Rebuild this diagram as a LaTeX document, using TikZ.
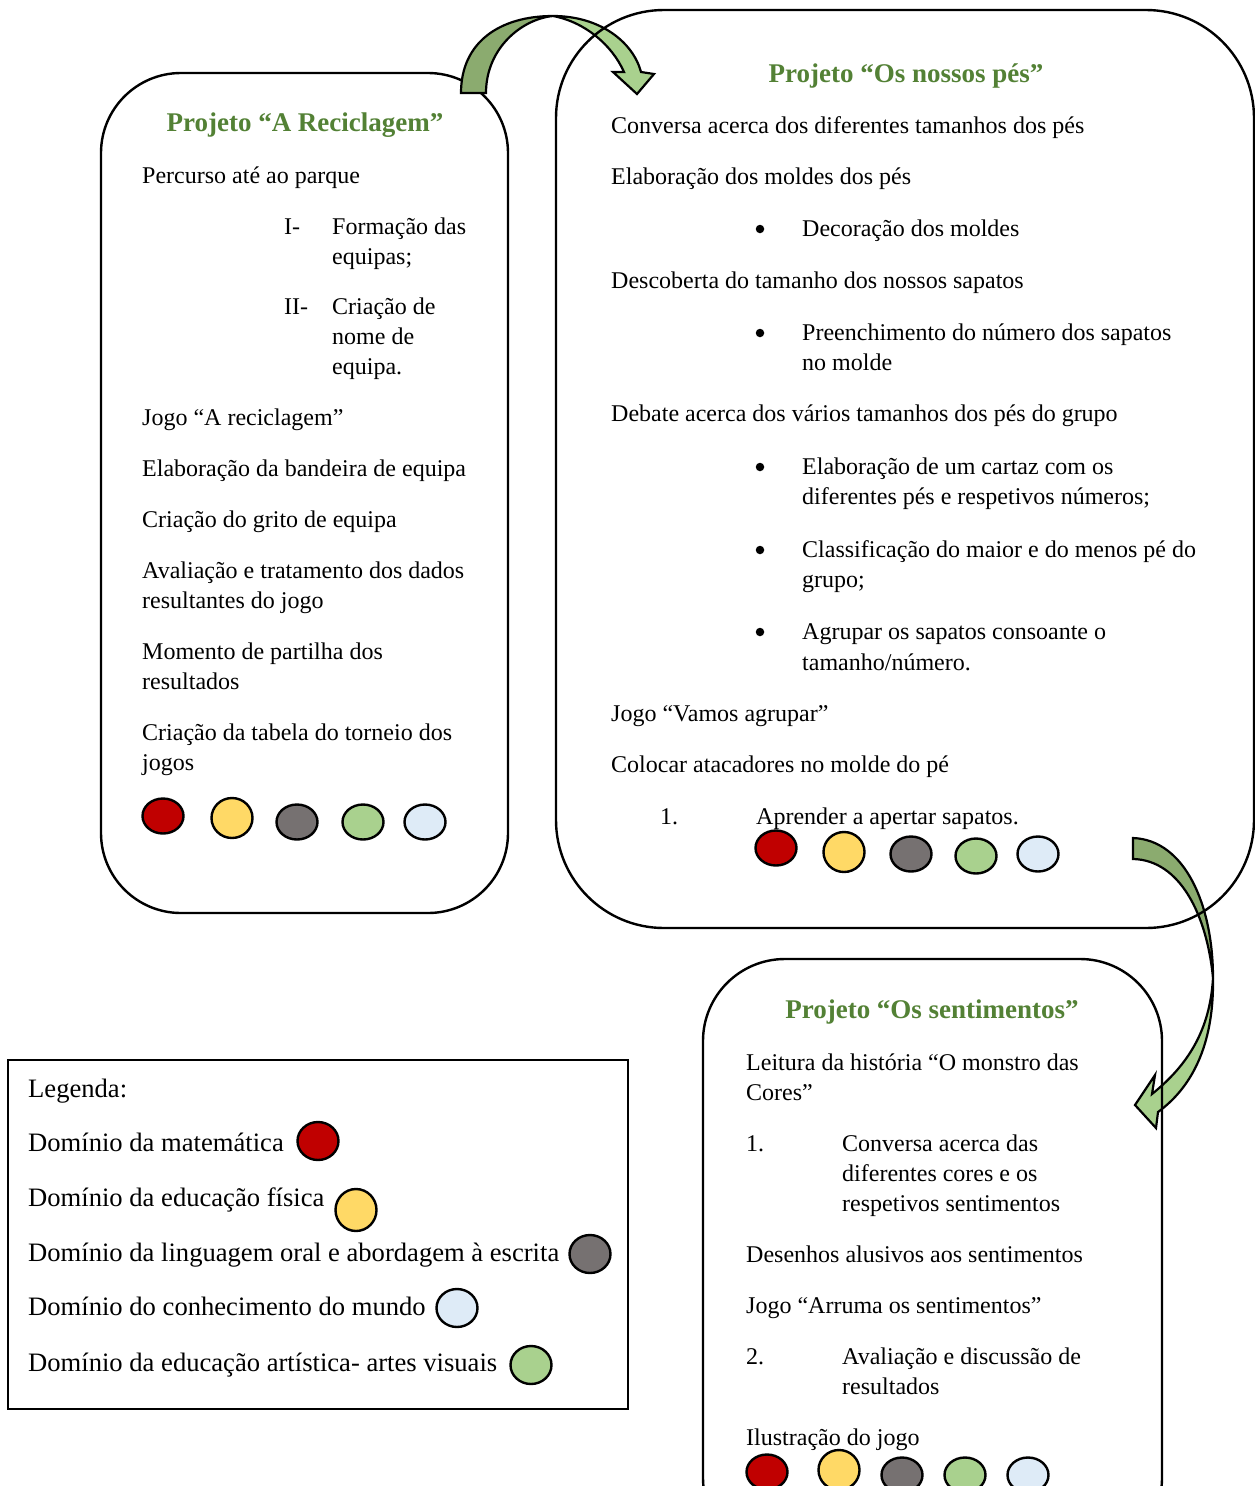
\documentclass[tikz,border=0pt]{standalone}
\usepackage{fontspec}
\setmainfont{Liberation Serif}
\usetikzlibrary{shapes.geometric}
\definecolor{tgreen}{HTML}{538135}
\definecolor{cred}{HTML}{C00000}
\definecolor{cyel}{HTML}{FFD966}
\definecolor{cgray}{HTML}{767171}
\definecolor{cgreen}{HTML}{A9D18E}
\definecolor{cblue}{HTML}{DEEBF7}
\definecolor{adark}{HTML}{8BAB6F}
\tikzset{
  txt/.style={anchor=base west, inner sep=0pt, font=\fontsize{24}{30}\selectfont},
  ttl/.style={anchor=base, inner sep=0pt, font=\fontsize{27}{32}\selectfont\bfseries, text=tgreen},
  leg/.style={anchor=base west, inner sep=0pt, font=\fontsize{26.6}{32}\selectfont},
  projbox/.style={draw, line width=2.4pt, inner sep=0pt},
  dot/.style={draw, ellipse, line width=2.4pt, inner sep=0pt, minimum width=41pt, minimum height=35pt},
  rdot/.style={dot, minimum height=40pt},
  bul/.style={circle, fill=black, inner sep=0pt, minimum size=8.5pt},
  blockarrow/.style={draw, line width=2.2pt, line join=miter},
}
\begin{document}
\begin{tikzpicture}[x=1pt,y=-1pt]
\useasboundingbox (0,0) rectangle (1254,1486);
\fill[white] (0,0) rectangle (1254,1486);

% Box 1
\node[projbox, rounded corners=80pt, minimum width=407pt, minimum height=840pt, fill=white] (box1) at (304.5,493) {};

% Arrow 1 (box1 -> box2)
\draw[blockarrow, fill=adark] (461,93) .. controls (461,42) and (500,16) .. (553,16)
   .. controls (522,19) and (486,48) .. (486,93) -- cycle;
\draw[blockarrow, fill=cgreen] (553,16) .. controls (600,16) and (633,42) .. (641,72)
   -- (654,74) -- (637,94) -- (613,72) -- (624,72)
   .. controls (612,45) and (585,22) .. (553,16) -- cycle;

% Arrow 2 (box2 -> box3)
\draw[blockarrow, fill=adark] (1133,838) .. controls (1185,840) and (1213,905) .. (1213,978)
   .. controls (1207,915) and (1180,860) .. (1133,859) -- cycle;
\draw[blockarrow, fill=cgreen] (1213,978) .. controls (1214,1040) and (1195,1085) .. (1158,1112)
   -- (1156,1128) -- (1135,1105) -- (1155,1075) -- (1152,1094)
   .. controls (1188,1065) and (1210,1030) .. (1213,978) -- cycle;

% Box 2 and Box 3
\node[projbox, rounded corners=108pt, minimum width=698pt, minimum height=918pt] (box2) at (905,469) {};
\node[projbox, rounded corners=82pt, minimum width=459pt, minimum height=601pt] (box3) at (932.5,1259.5) {};

% Legend
\node[draw, line width=2pt, minimum width=620pt, minimum height=349pt, inner sep=0pt] (legbox) at (318,1234.5) {};

% ---- Box 1 text
\node[ttl] (t1) at (305,131) {Projeto “A Reciclagem”};
\node[txt] (a1) at (142,183) {Percurso até ao parque};
\node[txt] (a2n) at (284,234) {I-};
\node[txt] (a2) at (332,234) {Formação das};
\node[txt] (a2b) at (332,264) {equipas;};
\node[txt] (a3n) at (284,314) {II-};
\node[txt] (a3) at (332,314) {Criação de};
\node[txt] (a3b) at (332,344) {nome de};
\node[txt] (a3c) at (332,374) {equipa.};
\node[txt] (a4) at (142,425) {Jogo “A reciclagem”};
\node[txt] (a5) at (142,476) {Elaboração da bandeira de equipa};
\node[txt] (a6) at (142,527) {Criação do grito de equipa};
\node[txt] (a7) at (142,578) {Avaliação e tratamento dos dados};
\node[txt] (a7b) at (142,608) {resultantes do jogo};
\node[txt] (a8) at (142,659) {Momento de partilha dos};
\node[txt] (a8b) at (142,689) {resultados};
\node[txt] (a9) at (142,740) {Criação da tabela do torneio dos};
\node[txt] (a9b) at (142,770) {jogos};
\node[dot, fill=cred] (ar) at (163,816) {};
\node[rdot, fill=cyel] (ay) at (232,818) {};
\node[dot, fill=cgray] (ag) at (297,822) {};
\node[dot, fill=cgreen] (agr) at (363,822) {};
\node[dot, fill=cblue] (ab) at (425,822) {};

% ---- Box 2 text
\node[ttl] (t2) at (906,82) {Projeto “Os nossos pés”};
\node[txt] (b1) at (611,133) {Conversa acerca dos diferentes tamanhos dos pés};
\node[txt] (b2) at (611,184) {Elaboração dos moldes dos pés};
\node[bul] (b2d) at (760,229) {};
\node[txt] (b2a) at (802,236) {Decoração dos moldes};
\node[txt] (b3) at (611,288) {Descoberta do tamanho dos nossos sapatos};
\node[bul] (b3d) at (760,333) {};
\node[txt] (b3a) at (802,340) {Preenchimento do número dos sapatos};
\node[txt] (b3b) at (802,370) {no molde};
\node[txt] (b4) at (611,421) {Debate acerca dos vários tamanhos dos pés do grupo};
\node[bul] (b4d) at (760,467) {};
\node[txt] (b4a) at (802,474) {Elaboração de um cartaz com os};
\node[txt] (b4b) at (802,504) {diferentes pés e respetivos números;};
\node[bul] (b5d) at (760,550) {};
\node[txt] (b5a) at (802,557) {Classificação do maior e do menos pé do};
\node[txt] (b5b) at (802,587) {grupo;};
\node[bul] (b6d) at (760,632) {};
\node[txt] (b6a) at (802,639) {Agrupar os sapatos consoante o};
\node[txt] (b6b) at (802,670) {tamanho/número.};
\node[txt] (b7) at (611,721) {Jogo “Vamos agrupar”};
\node[txt] (b8) at (611,772) {Colocar atacadores no molde do pé};
\node[txt] (b9n) at (660,824) {1.};
\node[txt] (b9) at (756,824) {Aprender a apertar sapatos.};
\node[dot, fill=cred] (br) at (776,848) {};
\node[rdot, fill=cyel] (by) at (844,852) {};
\node[dot, fill=cgray] (bg) at (911,854) {};
\node[dot, fill=cgreen] (bgr) at (976,856) {};
\node[dot, fill=cblue] (bb) at (1038,854) {};

% ---- Box 3 text
\node[ttl] (t3) at (932,1018) {Projeto “Os sentimentos”};
\node[txt] (c1) at (746,1070) {Leitura da história “O monstro das};
\node[txt] (c1b) at (746,1100) {Cores”};
\node[txt] (c2n) at (746,1151) {1.};
\node[txt] (c2) at (842,1151) {Conversa acerca das};
\node[txt] (c2b) at (842,1181) {diferentes cores e os};
\node[txt] (c2c) at (842,1211) {respetivos sentimentos};
\node[txt] (c3) at (746,1262) {Desenhos alusivos aos sentimentos};
\node[txt] (c4) at (746,1313) {Jogo “Arruma os sentimentos”};
\node[txt] (c5n) at (746,1364) {2.};
\node[txt] (c5) at (842,1364) {Avaliação e discussão de};
\node[txt] (c5b) at (842,1394) {resultados};
\node[txt] (c6) at (746,1445) {Ilustração do jogo};
\node[dot, fill=cred] (cr) at (767,1472) {};
\node[rdot, fill=cyel] (cy) at (839,1470) {};
\node[dot, fill=cgray] (cg) at (902,1475) {};
\node[dot, fill=cgreen] (cgr) at (965,1475) {};
\node[dot, fill=cblue] (cb) at (1028,1475) {};

% ---- Legend text
\node[leg] (l0) at (28,1097) {Legenda:};
\node[leg] (l1) at (28,1151) {Domínio da matemática};
\node[dot, minimum height=38pt, fill=cred] (lr) at (318,1141) {};
\node[leg] (l2) at (28,1206) {Domínio da educação física};
\node[dot, minimum height=42pt, fill=cyel] (ly) at (356,1210) {};
\node[leg] (l3) at (28,1261) {Domínio da linguagem oral e abordagem à escrita};
\node[dot, minimum height=38pt, fill=cgray] (lg) at (590,1254) {};
\node[leg] (l4) at (28,1315) {Domínio do conhecimento do mundo};
\node[dot, minimum height=38pt, fill=cblue] (lb) at (457,1308) {};
\node[leg] (l5) at (28,1371) {Domínio da educação artística- artes visuais};
\node[dot, minimum height=38pt, fill=cgreen] (lgr) at (531,1365) {};
\end{tikzpicture}
\end{document}
